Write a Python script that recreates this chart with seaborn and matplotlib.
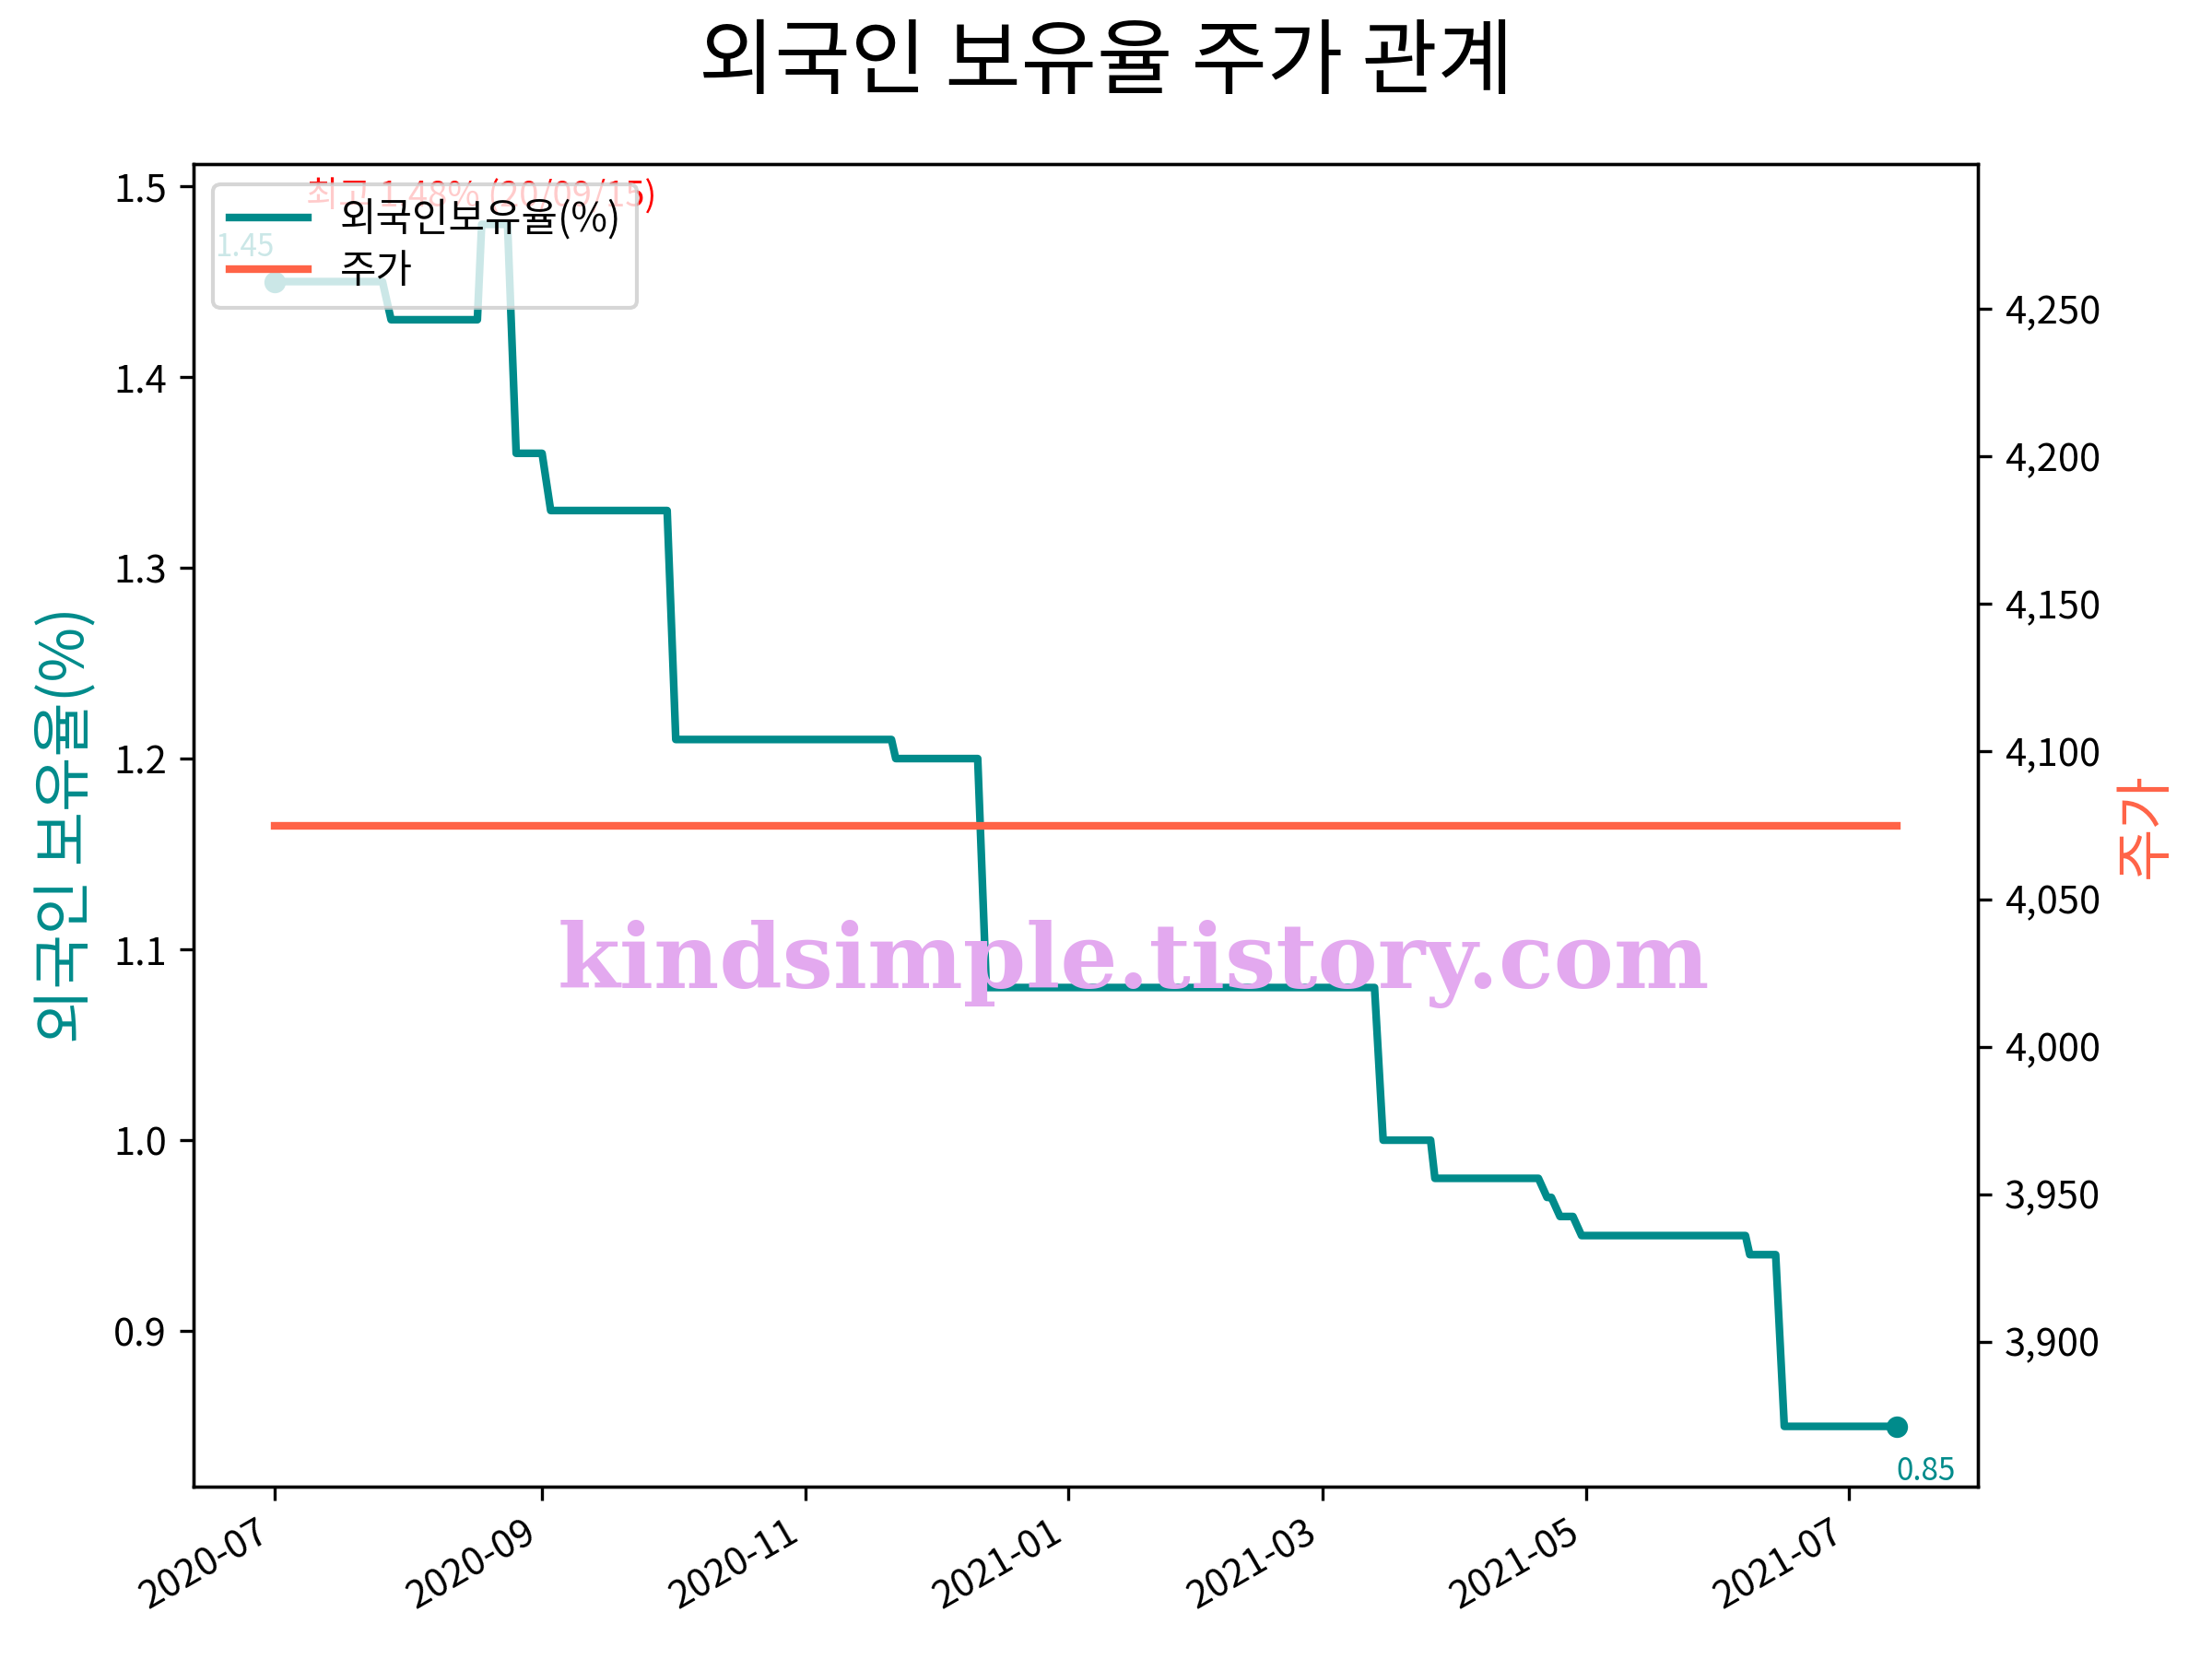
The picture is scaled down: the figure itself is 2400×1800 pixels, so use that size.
import matplotlib
matplotlib.use("Agg")
import matplotlib.pyplot as plt
import matplotlib.dates as mdates
import matplotlib.ticker as mticker
import seaborn as sns
import pandas as pd

# ---- data ----
hold_dates = ["2020-07-01", "2020-07-26", "2020-07-28", "2020-08-17", "2020-08-18",
              "2020-08-24", "2020-08-26", "2020-09-01", "2020-09-03", "2020-09-30",
              "2020-10-02", "2020-11-21", "2020-11-22", "2020-12-11", "2020-12-13",
              "2021-03-13", "2021-03-15", "2021-03-26", "2021-03-27", "2021-04-20",
              "2021-04-22", "2021-04-23", "2021-04-25", "2021-04-28", "2021-04-30",
              "2021-06-07", "2021-06-08", "2021-06-14", "2021-06-16", "2021-07-12"]
hold_ratio = [1.45, 1.45, 1.43, 1.43, 1.48, 1.48, 1.36, 1.36, 1.33, 1.33,
              1.21, 1.21, 1.20, 1.20, 1.08, 1.08, 1.00, 1.00, 0.98, 0.98,
              0.97, 0.97, 0.96, 0.96, 0.95, 0.95, 0.94, 0.94, 0.85, 0.85]
price_dates = ["2020-07-01", "2021-07-12"]
price_values = [4075, 4075]

title = "외국인 보유율 주가 관계"
ylabel_left = "외국인 보유율(%)"
ylabel_right = "주가"
legend_labels = ["외국인보유율(%)", "주가"]
max_note = "최고 1.48% (20/09/15)"
watermark = "kindsimple.tistory.com"

TEAL = "#008B8B"
TOMATO = "#FF6347"

plt.rcParams['font.family'] = ['Noto Sans CJK KR', 'DejaVu Sans']
plt.rcParams['axes.unicode_minus'] = False

df_hold = pd.DataFrame({"date": pd.to_datetime(hold_dates), "ratio": hold_ratio})
df_price = pd.DataFrame({"date": pd.to_datetime(price_dates), "price": price_values})

fig, ax1 = plt.subplots(figsize=(8, 6), dpi=300)
fig.subplots_adjust(left=0.0875, right=0.894, top=0.901, bottom=0.104)

sns.lineplot(data=df_hold, x="date", y="ratio", ax=ax1, color=TEAL, linewidth=2, legend=False)
ax2 = ax1.twinx()
sns.lineplot(data=df_price, x="date", y="price", ax=ax2, color=TOMATO, linewidth=2, legend=False)

# end markers and labels
first = df_hold.iloc[0]
last = df_hold.iloc[-1]
ax1.plot([first["date"], last["date"]], [first["ratio"], last["ratio"]], linestyle="none",
         marker="o", ms=5.6, mew=0, color=TEAL)
ax1.annotate(f"{first['ratio']:.2f}", xy=(first["date"], first["ratio"]), xytext=(0, 6.5),
             textcoords="offset points", ha="right", va="baseline", fontsize=8, color=TEAL)
ax1.annotate(f"{last['ratio']:.2f}", xy=(last["date"], last["ratio"]), xytext=(0, -14),
             textcoords="offset points", ha="left", va="baseline", fontsize=8, color=TEAL)

imax = df_hold["ratio"].idxmax()
ax1.annotate(max_note, xy=(df_hold.loc[imax, "date"], df_hold.loc[imax, "ratio"]), xytext=(0, 4.5),
             textcoords="offset points", ha="center", va="baseline", fontsize=9.2, color="red")

ax1.set_xlabel("")
ax2.set_xlabel("")
ax1.set_ylabel(ylabel_left, color=TEAL, fontsize=15.5)
ax2.set_ylabel(ylabel_right, color=TOMATO, fontsize=15)

ax1.xaxis.set_major_locator(mdates.MonthLocator(bymonth=[1, 3, 5, 7, 9, 11]))
ax1.xaxis.set_major_formatter(mdates.DateFormatter("%Y-%m"))
for lab in ax1.get_xticklabels():
    lab.set_rotation(30)
    lab.set_ha("right")
ax2.yaxis.set_major_formatter(mticker.FuncFormatter(lambda v, p: f"{v:,.0f}"))

handles = [ax1.get_lines()[0], ax2.get_lines()[0]]
ax2.legend(handles, legend_labels, loc="upper left", fontsize=10.3, labelspacing=0.28)

fig.suptitle(title, fontsize=21.5, y=0.987)
fig.text(0.5125, 1 - 1072 / 1800, watermark, ha="center", va="baseline",
         fontsize=23.5, fontweight="bold", family="DejaVu Serif", color="#E3A9EF", zorder=10)

fig.savefig("out.png", dpi=300)
